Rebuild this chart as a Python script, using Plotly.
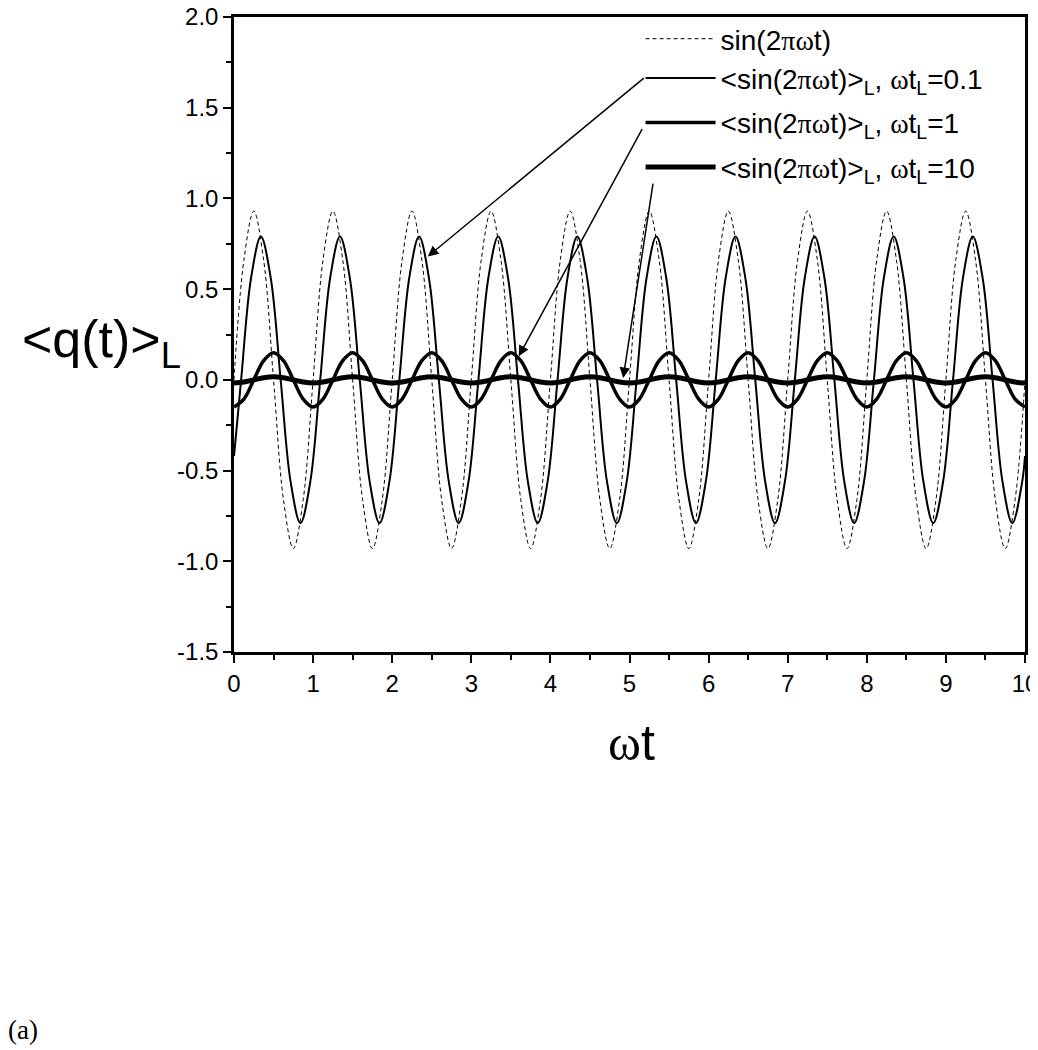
import plotly.graph_objects as go

wt = [i / 8 for i in range(81)]

sine = [
    0.00, 0.66, 0.93, 0.66, 0.00, -0.66, -0.93, -0.66,
    0.00, 0.66, 0.93, 0.66, 0.00, -0.66, -0.93, -0.66,
    0.00, 0.66, 0.93, 0.66, 0.00, -0.66, -0.93, -0.66,
    0.00, 0.66, 0.93, 0.66, 0.00, -0.66, -0.93, -0.66,
    0.00, 0.66, 0.93, 0.66, 0.00, -0.66, -0.93, -0.66,
    0.00, 0.66, 0.93, 0.66, 0.00, -0.66, -0.93, -0.66,
    0.00, 0.66, 0.93, 0.66, 0.00, -0.66, -0.93, -0.66,
    0.00, 0.66, 0.93, 0.66, 0.00, -0.66, -0.93, -0.66,
    0.00, 0.66, 0.93, 0.66, 0.00, -0.66, -0.93, -0.66,
    0.00, 0.66, 0.93, 0.66, 0.00, -0.66, -0.93, -0.66,
    0.00,
]

# the wt_L = 0.1 curve peaks at ~0.34 + n, so it is read on its own grid
wt_01 = [0.0] + [n + d for n in range(10)
                 for d in (0.09, 0.215, 0.34, 0.465, 0.59, 0.715, 0.84, 0.965)] + [10.0]
avg_01 = [
    -0.42,
    0.00, 0.56, 0.79, 0.56, 0.00, -0.56, -0.79, -0.56,
    0.00, 0.56, 0.79, 0.56, 0.00, -0.56, -0.79, -0.56,
    0.00, 0.56, 0.79, 0.56, 0.00, -0.56, -0.79, -0.56,
    0.00, 0.56, 0.79, 0.56, 0.00, -0.56, -0.79, -0.56,
    0.00, 0.56, 0.79, 0.56, 0.00, -0.56, -0.79, -0.56,
    0.00, 0.56, 0.79, 0.56, 0.00, -0.56, -0.79, -0.56,
    0.00, 0.56, 0.79, 0.56, 0.00, -0.56, -0.79, -0.56,
    0.00, 0.56, 0.79, 0.56, 0.00, -0.56, -0.79, -0.56,
    0.00, 0.56, 0.79, 0.56, 0.00, -0.56, -0.79, -0.56,
    0.00, 0.56, 0.79, 0.56, 0.00, -0.56, -0.79, -0.56,
    -0.42,
]
avg_1 = [
    -0.15, -0.106, 0.00, 0.106, 0.15, 0.106, 0.00, -0.106,
    -0.15, -0.106, 0.00, 0.106, 0.15, 0.106, 0.00, -0.106,
    -0.15, -0.106, 0.00, 0.106, 0.15, 0.106, 0.00, -0.106,
    -0.15, -0.106, 0.00, 0.106, 0.15, 0.106, 0.00, -0.106,
    -0.15, -0.106, 0.00, 0.106, 0.15, 0.106, 0.00, -0.106,
    -0.15, -0.106, 0.00, 0.106, 0.15, 0.106, 0.00, -0.106,
    -0.15, -0.106, 0.00, 0.106, 0.15, 0.106, 0.00, -0.106,
    -0.15, -0.106, 0.00, 0.106, 0.15, 0.106, 0.00, -0.106,
    -0.15, -0.106, 0.00, 0.106, 0.15, 0.106, 0.00, -0.106,
    -0.15, -0.106, 0.00, 0.106, 0.15, 0.106, 0.00, -0.106,
    -0.15,
]
avg_10 = [
    -0.017, -0.012, 0.000, 0.012, 0.017, 0.012, 0.000, -0.012,
    -0.017, -0.012, 0.000, 0.012, 0.017, 0.012, 0.000, -0.012,
    -0.017, -0.012, 0.000, 0.012, 0.017, 0.012, 0.000, -0.012,
    -0.017, -0.012, 0.000, 0.012, 0.017, 0.012, 0.000, -0.012,
    -0.017, -0.012, 0.000, 0.012, 0.017, 0.012, 0.000, -0.012,
    -0.017, -0.012, 0.000, 0.012, 0.017, 0.012, 0.000, -0.012,
    -0.017, -0.012, 0.000, 0.012, 0.017, 0.012, 0.000, -0.012,
    -0.017, -0.012, 0.000, 0.012, 0.017, 0.012, 0.000, -0.012,
    -0.017, -0.012, 0.000, 0.012, 0.017, 0.012, 0.000, -0.012,
    -0.017, -0.012, 0.000, 0.012, 0.017, 0.012, 0.000, -0.012,
    -0.017,
]

y_ticks = [-1.5, -1.0, -0.5, 0.0, 0.5, 1.0, 1.5, 2.0]
y_labels = ["-1.5", "-1.0", "-0.5", "0.0", "0.5", "1.0", "1.5", "2.0"]
x_ticks = [0, 1, 2, 3, 4, 5, 6, 7, 8, 9, 10]

SERIF = "<span style=\"font-family:'Liberation Serif',serif\">{}</span>"
W = SERIF.format("ω")
P = SERIF.format("π")
names = [
    f"sin(2{P}{W}t)",
    f"&lt;sin(2{P}{W}t)&gt;<sub>L</sub>, {W}t<sub>L</sub>=0.1",
    f"&lt;sin(2{P}{W}t)&gt;<sub>L</sub>, {W}t<sub>L</sub>=1",
    f"&lt;sin(2{P}{W}t)&gt;<sub>L</sub>, {W}t<sub>L</sub>=10",
]
groups = ["a", "a", "b", "c"]

FONT = "Liberation Sans, Arial, sans-serif"

fig = go.Figure()
fig.add_trace(go.Scatter(x=wt, y=sine, mode="lines", name=names[0], legendgroup=groups[0],
                         line=dict(color="black", width=1, dash="4px,3px", shape="spline")))
fig.add_trace(go.Scatter(x=wt_01, y=avg_01, mode="lines", name=names[1], legendgroup=groups[1],
                         line=dict(color="black", width=2, shape="spline")))
fig.add_trace(go.Scatter(x=wt, y=avg_1, mode="lines", name=names[2], legendgroup=groups[2],
                         line=dict(color="black", width=3.5, shape="spline")))
fig.add_trace(go.Scatter(x=wt, y=avg_10, mode="lines", name=names[3], legendgroup=groups[3],
                         line=dict(color="black", width=5, shape="spline")))

# arrows from the legend to the curves (data coordinates)
arrows = [
    (2.45, 0.68, 5.20, 1.67),
    (3.60, 0.13, 5.17, 1.39),
    (4.92, 0.01, 5.30, 1.09),
]
for hx, hy, tx, ty in arrows:
    fig.add_annotation(x=hx, y=hy, ax=tx, ay=ty, xref="x", yref="y",
                       axref="x", ayref="y", text="", showarrow=True,
                       arrowhead=2, arrowsize=1.4, arrowwidth=1.5,
                       arrowcolor="black")

# axis titles and panel label
fig.add_annotation(x=-0.2705, y=0.487, xref="paper", yref="paper",
                   xanchor="left", yanchor="middle", showarrow=False,
                   text="&lt;q(t)&gt;<sub>L</sub>",
                   font=dict(size=52, family=FONT, color="black"))
fig.add_annotation(x=0.502, y=-0.1428, xref="paper", yref="paper",
                   xanchor="center", yanchor="middle", showarrow=False,
                   text=SERIF.format("ω") + "t",
                   font=dict(size=50, family=FONT, color="black"))
fig.add_annotation(x=-0.288, y=-0.5945, xref="paper", yref="paper",
                   xanchor="left", yanchor="middle", showarrow=False,
                   text="(a)",
                   font=dict(size=27, family="Liberation Serif", color="black"))

axis_common = dict(
    showgrid=False, zeroline=False, showline=True, linecolor="black",
    linewidth=2.5, mirror=True, ticks="outside", ticklen=8, tickwidth=2,
    tickcolor="black", tickfont=dict(size=24, family=FONT, color="black"),
    automargin=False, ticklabeloverflow="allow",
)
fig.update_xaxes(range=[0, 10], tickvals=x_ticks,
                 minor=dict(dtick=0.5, ticks="outside", ticklen=5,
                            tickwidth=2, tickcolor="black"),
                 **axis_common)
fig.update_yaxes(range=[-1.5, 2.0], tickvals=y_ticks, ticktext=y_labels,
                 minor=dict(dtick=0.25, ticks="outside", ticklen=5,
                            tickwidth=2, tickcolor="black"),
                 **axis_common)

fig.update_layout(
    width=1038, height=1050,
    margin=dict(l=226, r=21, t=9, b=406, autoexpand=False),
    paper_bgcolor="white", plot_bgcolor="white",
    font=dict(family=FONT, color="black"),
    showlegend=True,
    legend=dict(x=0.514, y=1.0047, xanchor="left", yanchor="top",
                bgcolor="rgba(0,0,0,0)", borderwidth=0,
                font=dict(size=28, family=FONT, color="black"),
                itemwidth=70, tracegroupgap=5, traceorder="grouped"),
)

fig.write_html("out.html")
